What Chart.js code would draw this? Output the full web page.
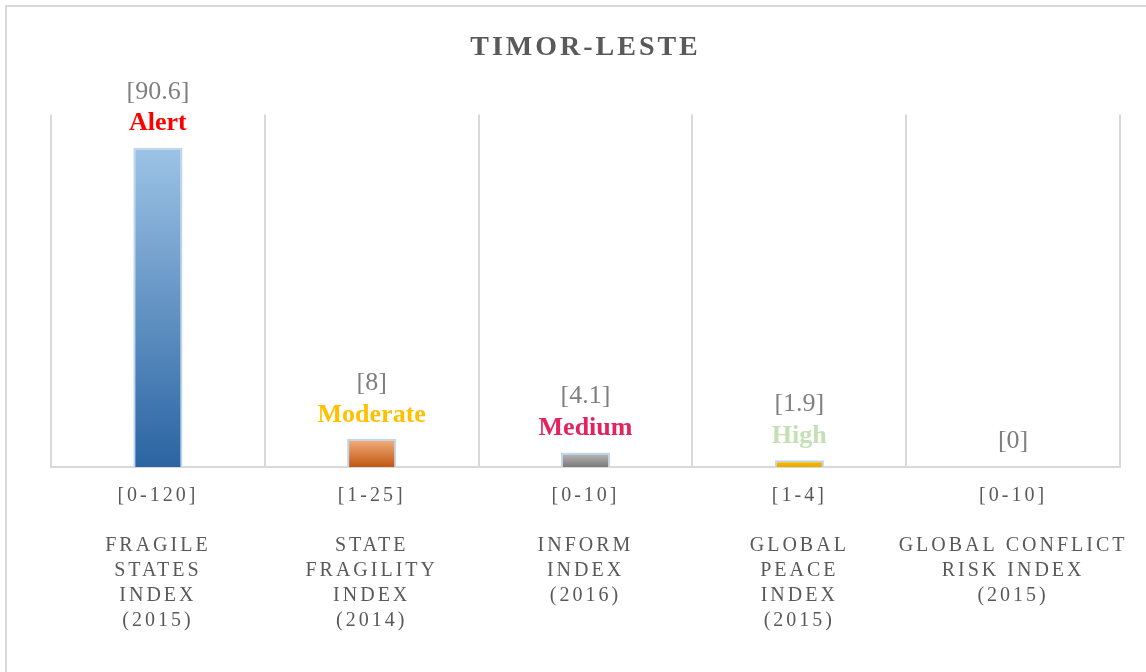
<!DOCTYPE html>
<html>
<head>
<meta charset="utf-8">
<script src="https://cdn.jsdelivr.net/npm/chart.js@4"></script>
<style>
  html, body { margin: 0; padding: 0; background: #fff; }
  #wrap { position: relative; width: 1146px; height: 672px; overflow: hidden; }
  #frame { position: absolute; left: 5px; top: 5px; width: 1200px; height: 700px;
           border-top: 2px solid #d9d9d9; border-left: 2px solid #d9d9d9; pointer-events: none; }
  canvas { position: absolute; left: 0; top: 0; }
</style>
</head>
<body>
<div id="wrap">
  <canvas id="c" width="1146" height="672"></canvas>
  <div id="frame"></div>
</div>
<script>
const title = 'TIMOR-LESTE';
const ranges = ['[0-120]', '[1-25]', '[0-10]', '[1-4]', '[0-10]'];
const names = [
  ['FRAGILE', 'STATES', 'INDEX', '(2015)'],
  ['STATE', 'FRAGILITY', 'INDEX', '(2014)'],
  ['INFORM', 'INDEX', '(2016)'],
  ['GLOBAL', 'PEACE', 'INDEX', '(2015)'],
  ['GLOBAL CONFLICT', 'RISK INDEX', '(2015)']
];
const values = [90.6, 8, 4.1, 1.9, 0];
const valueLabels = ['[90.6]', '[8]', '[4.1]', '[1.9]', '[0]'];
const statuses = ['Alert', 'Moderate', 'Medium', 'High', ''];
const statusColors = ['#ff0000', '#ffc000', '#e3225e', '#c5e0b4', '#000000'];
const gradTop = ['#9dc3e6', '#f4b183', '#bdbdbd', '#ffc000', '#bdbdbd'];
const gradBottom = ['#2a64a2', '#c0570f', '#7a7a7a', '#e8a800', '#7a7a7a'];

const labels = ranges.map((r, i) => [r, ''].concat(names[i]));

const spacingPlugin = {
  id: 'spacing',
  beforeDraw(chart) { chart.ctx.letterSpacing = '3px'; },
  beforeDatasetsDraw(chart) { chart.ctx.letterSpacing = '0px'; }
};

const labelPlugin = {
  id: 'barLabels',
  afterDatasetsDraw(chart) {
    const ctx = chart.ctx;
    const meta = chart.getDatasetMeta(0);
    ctx.save();
    ctx.letterSpacing = '0px';
    ctx.textAlign = 'center';
    ctx.textBaseline = 'middle';
    meta.data.forEach((bar, i) => {
      const top = bar.y;
      const hasStatus = statuses[i] !== '';
      ctx.font = '26px "Liberation Serif"';
      ctx.fillStyle = '#7f7f7f';
      ctx.fillText(valueLabels[i], bar.x, top - (hasStatus ? 56 : 26));
      if (hasStatus) {
        ctx.font = 'bold 26px "Liberation Serif"';
        ctx.fillStyle = statusColors[i];
        ctx.fillText(statuses[i], bar.x, top - 24);
      }
    });
    ctx.restore();
  }
};

new Chart(document.getElementById('c'), {
  type: 'bar',
  data: {
    labels: labels,
    datasets: [{
      data: values,
      backgroundColor(context) {
        const chart = context.chart;
        const i = context.dataIndex;
        if (!chart.chartArea || !chart.scales.y) return gradBottom[i];
        const yTop = chart.scales.y.getPixelForValue(values[i]);
        const yBot = chart.scales.y.getPixelForValue(0);
        if (yBot - yTop < 1) return gradBottom[i];
        const g = chart.ctx.createLinearGradient(0, yTop, 0, yBot);
        g.addColorStop(0, gradTop[i]);
        g.addColorStop(1, gradBottom[i]);
        return g;
      },
      borderColor: '#bdd7ee',
      borderWidth: 2,
      barPercentage: 0.23,
      categoryPercentage: 1.0
    }]
  },
  options: {
    responsive: false,
    animation: false,
    devicePixelRatio: 1,
    layout: { padding: { left: 51, right: 26, top: 10, bottom: 23 } },
    plugins: {
      legend: { display: false },
      tooltip: { enabled: false },
      title: {
        display: true,
        text: title,
        color: '#595959',
        font: { family: '"Liberation Serif"', size: 28, weight: 'bold', lineHeight: 1.2 },
        padding: { top: 21, bottom: 50 }
      }
    },
    scales: {
      x: {
        offset: true,
        grid: { display: true, offset: true, color: '#d9d9d9', lineWidth: 2, drawTicks: false },
        border: { display: true, color: '#d9d9d9', width: 2 },
        ticks: {
          color: '#595959',
          autoSkip: false,
          maxRotation: 0,
          minRotation: 0,
          padding: 16,
          font: { family: '"Liberation Serif"', size: 20, lineHeight: 1.25 }
        }
      },
      y: {
        display: false,
        min: 0,
        max: 100
      }
    }
  },
  plugins: [spacingPlugin, labelPlugin]
});
</script>
</body>
</html>
